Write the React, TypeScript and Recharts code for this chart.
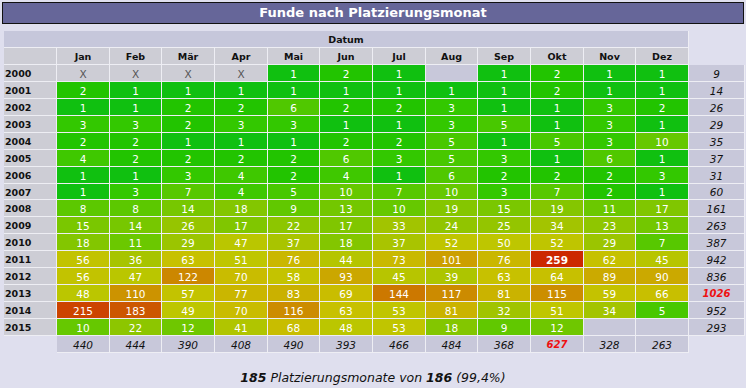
import React from "react";
import { ScatterChart, Scatter, XAxis, YAxis } from "recharts";

const months = ["Jan", "Feb", "Mär", "Apr", "Mai", "Jun", "Jul", "Aug", "Sep", "Okt", "Nov", "Dez"];
const years = [2000, 2001, 2002, 2003, 2004, 2005, 2006, 2007, 2008, 2009, 2010, 2011, 2012, 2013, 2014, 2015];

type V = number | "X" | null;
const y2000: V[] = ["X", "X", "X", "X", 1, 2, 1, null, 1, 2, 1, 1];
const y2001: V[] = [2, 1, 1, 1, 1, 1, 1, 1, 1, 2, 1, 1];
const y2002: V[] = [1, 1, 2, 2, 6, 2, 2, 3, 1, 1, 3, 2];
const y2003: V[] = [3, 3, 2, 3, 3, 1, 1, 3, 5, 1, 3, 1];
const y2004: V[] = [2, 2, 1, 1, 1, 2, 2, 5, 1, 5, 3, 10];
const y2005: V[] = [4, 2, 2, 2, 2, 6, 3, 5, 3, 1, 6, 1];
const y2006: V[] = [1, 1, 3, 4, 2, 4, 1, 6, 2, 2, 2, 3];
const y2007: V[] = [1, 3, 7, 4, 5, 10, 7, 10, 3, 7, 2, 1];
const y2008: V[] = [8, 8, 14, 18, 9, 13, 10, 19, 15, 19, 11, 17];
const y2009: V[] = [15, 14, 26, 17, 22, 17, 33, 24, 25, 34, 23, 13];
const y2010: V[] = [18, 11, 29, 47, 37, 18, 37, 52, 50, 52, 29, 7];
const y2011: V[] = [56, 36, 63, 51, 76, 44, 73, 101, 76, 259, 62, 45];
const y2012: V[] = [56, 47, 122, 70, 58, 93, 45, 39, 63, 64, 89, 90];
const y2013: V[] = [48, 110, 57, 77, 83, 69, 144, 117, 81, 115, 59, 66];
const y2014: V[] = [215, 183, 49, 70, 116, 63, 53, 81, 32, 51, 34, 5];
const y2015: V[] = [10, 22, 12, 41, 68, 48, 53, 18, 9, 12, null, null];
const rows = [y2000, y2001, y2002, y2003, y2004, y2005, y2006, y2007, y2008, y2009, y2010, y2011, y2012, y2013, y2014, y2015];

const yearTotals = [9, 14, 26, 29, 35, 37, 31, 60, 161, 263, 387, 942, 836, 1026, 952, 293];
const monthTotals = [440, 444, 390, 408, 490, 393, 466, 484, 368, 627, 328, 263];

const titleText = "Funde nach Platzierungsmonat";
const headerText = "Datum";
const placedMonths = 185;
const allMonths = 186;
const percentText = "(99,4%)";

// layout
const W = 737.333 / 14;
const H = 322 / 19;
const FONT = "'DejaVu Sans', Verdana, sans-serif";
const BG = "#dfdfee";
const GAP = "#eeeef4";
const GRAY_HEAD = "#cdcdd5";
const GRAY_BLUE = "#c8c8da";
const GRAY_DATUM = "#c6c7db";

const stops: [number, number, number, number][] = [
  [1, 16, 192, 16],
  [2, 34, 196, 0],
  [3, 51, 200, 0],
  [5, 72, 200, 0],
  [10, 102, 200, 0],
  [20, 136, 198, 0],
  [35, 165, 196, 0],
  [50, 190, 198, 0],
  [65, 200, 192, 0],
  [80, 202, 180, 0],
  [100, 204, 160, 0],
  [120, 204, 136, 0],
  [145, 204, 119, 0],
  [185, 204, 85, 0],
  [215, 204, 68, 0],
  [259, 204, 40, 0],
];
function heat(v: number): string {
  const lv = Math.log(v);
  for (let i = 0; i < stops.length - 1; i++) {
    const a = stops[i], b = stops[i + 1];
    if (v <= b[0]) {
      const t = (lv - Math.log(a[0])) / (Math.log(b[0]) - Math.log(a[0]));
      const c = [1, 2, 3].map((k) => Math.round(a[k] + (b[k] - a[k]) * t));
      return `rgb(${c[0]},${c[1]},${c[2]})`;
    }
  }
  const l = stops[stops.length - 1];
  return `rgb(${l[1]},${l[2]},${l[3]})`;
}

const maxCell = Math.max(...rows.flat().filter((v): v is number => typeof v === "number"));
const maxYear = Math.max(...yearTotals);
const maxMonth = Math.max(...monthTotals);

const cellData = rows.flatMap((r, ri) => r.map((v, ci) => ({ x: ci + 0.5, y: ri + 0.5, v })));
const yearData = years.map((yr, ri) => ({ x: -0.5, y: ri + 0.5, label: yr }));
const monthData = months.map((m, ci) => ({ x: ci + 0.5, y: -0.5, label: m }));
const headCorner = [{ x: -0.5, y: -0.5 }];
const datumData = [{ x: 5.5, y: -1.5, label: headerText }];
const yearTotalData = yearTotals.map((t, ri) => ({ x: 12.5, y: ri + 0.5, v: t }));
const monthTotalData = monthTotals.map((t, ci) => ({ x: ci + 0.5, y: 16.5, v: t }));

function Box(props: { cx: number; cy: number; w: number; fill: string; wOverride?: number; children?: any }) {
  const { cx, cy, w, fill, wOverride } = props;
  const l = Math.round(cx - w / 2);
  const r = wOverride ? l + wOverride : Math.round(cx + w / 2);
  const t = Math.round(cy - H / 2);
  const b = Math.round(cy + H / 2);
  return (
    <g>
      <rect x={l} y={t} width={r - l} height={b - t} fill={GAP} />
      <rect x={l} y={t} width={r - l - 1} height={b - t - 1} fill={fill} />
      {props.children ? props.children((l + r - 1) / 2, (t + b - 1) / 2 + 0.5, l) : null}
    </g>
  );
}

const cellShape = (p: any) => {
  const v: V = p.payload.v;
  const fill = typeof v === "number" ? heat(v) : v === "X" ? GRAY_HEAD : GRAY_BLUE;
  return (
    <Box cx={p.cx} cy={p.cy} w={W} fill={fill}>
      {(tx: number, ty: number) =>
        v === null ? null : (
          <text
            x={tx}
            y={ty}
            textAnchor="middle"
            dominantBaseline="central"
            fontFamily={FONT}
            fontSize={10.5}
            fontWeight={v === maxCell ? "bold" : "normal"}
            fill={v === "X" ? "#555" : "#fff"}
          >
            {String(v)}
          </text>
        )
      }
    </Box>
  );
};

const yearShape = (p: any) => (
  <Box cx={p.cx} cy={p.cy} w={W} fill={GRAY_HEAD}>
    {(tx: number, ty: number, l: number) => (
      <text x={l + 1} y={ty} textAnchor="start" dominantBaseline="central" fontFamily={FONT} fontSize={9.5} fontWeight="bold" fill="#111">
        {p.payload.label}
      </text>
    )}
  </Box>
);

const monthShape = (p: any) => (
  <Box cx={p.cx} cy={p.cy} w={W} fill={GRAY_HEAD}>
    {(tx: number, ty: number) => (
      <text x={tx} y={ty} textAnchor="middle" dominantBaseline="central" fontFamily={FONT} fontSize={9.5} fontWeight="bold" fill="#111">
        {p.payload.label}
      </text>
    )}
  </Box>
);

const cornerShape = (p: any) => <Box cx={p.cx} cy={p.cy} w={W} fill={GRAY_HEAD} />;

const datumShape = (p: any) => (
  <Box cx={p.cx} cy={p.cy} w={W * 13} fill={GRAY_DATUM}>
    {(tx: number, ty: number) => (
      <text x={tx} y={ty} textAnchor="middle" dominantBaseline="central" fontFamily={FONT} fontSize={9.5} fontWeight="bold" fill="#111">
        {p.payload.label}
      </text>
    )}
  </Box>
);

const totalShape = (isMax: (v: number) => boolean, wide: boolean) => (p: any) => {
  const v: number = p.payload.v;
  const red = isMax(v);
  return (
    <Box cx={p.cx} cy={p.cy} w={W} fill={GRAY_BLUE} wOverride={wide ? 56 : undefined}>
      {(tx: number, ty: number) => (
        <text
          x={tx}
          y={ty}
          textAnchor="middle"
          dominantBaseline="central"
          fontFamily={FONT}
          fontSize={red ? 10 : 10.5}
          fontStyle="italic"
          fontWeight={red ? "bold" : "normal"}
          fill={red ? "#ee1111" : "#111"}
        >
          {v}
        </text>
      )}
    </Box>
  );
};

export default function App() {
  return (
    <div style={{ position: "absolute", left: 0, top: 0, width: 746, height: 388, background: BG, overflow: "hidden" }}>
      <div
        style={{
          position: "absolute",
          left: 2,
          top: 2,
          width: 740,
          height: 20,
          background: "#666699",
          border: "1px solid #111",
          color: "#fff",
          fontFamily: FONT,
          fontWeight: "bold",
          fontSize: 13,
          lineHeight: "20px",
          textAlign: "center",
        }}
      >
        {titleText}
      </div>
      <div style={{ position: "absolute", left: 0, top: 0 }}>
        <ScatterChart width={746} height={388} margin={{ top: 31, right: 4.333, bottom: 35, left: 4.333 }}>
          <XAxis type="number" dataKey="x" domain={[-1, 13]} hide />
          <YAxis type="number" dataKey="y" domain={[-2, 17]} reversed hide />
          <Scatter data={datumData} shape={datumShape} isAnimationActive={false} />
          <Scatter data={headCorner} shape={cornerShape} isAnimationActive={false} />
          <Scatter data={monthData} shape={monthShape} isAnimationActive={false} />
          <Scatter data={yearData} shape={yearShape} isAnimationActive={false} />
          <Scatter data={cellData} shape={cellShape} isAnimationActive={false} />
          <Scatter data={yearTotalData} shape={totalShape((v) => v === maxYear, true)} isAnimationActive={false} />
          <Scatter data={monthTotalData} shape={totalShape((v) => v === maxMonth, false)} isAnimationActive={false} />
        </ScatterChart>
      </div>
      <div
        style={{
          position: "absolute",
          left: 0,
          top: 368,
          width: 746,
          height: 20,
          lineHeight: "20px",
          textAlign: "center",
          fontFamily: FONT,
          fontSize: 12.5,
          fontStyle: "italic",
          color: "#111",
        }}
      >
        <b>{placedMonths}</b> Platzierungsmonate von <b>{allMonths}</b> {percentText}
      </div>
    </div>
  );
}
